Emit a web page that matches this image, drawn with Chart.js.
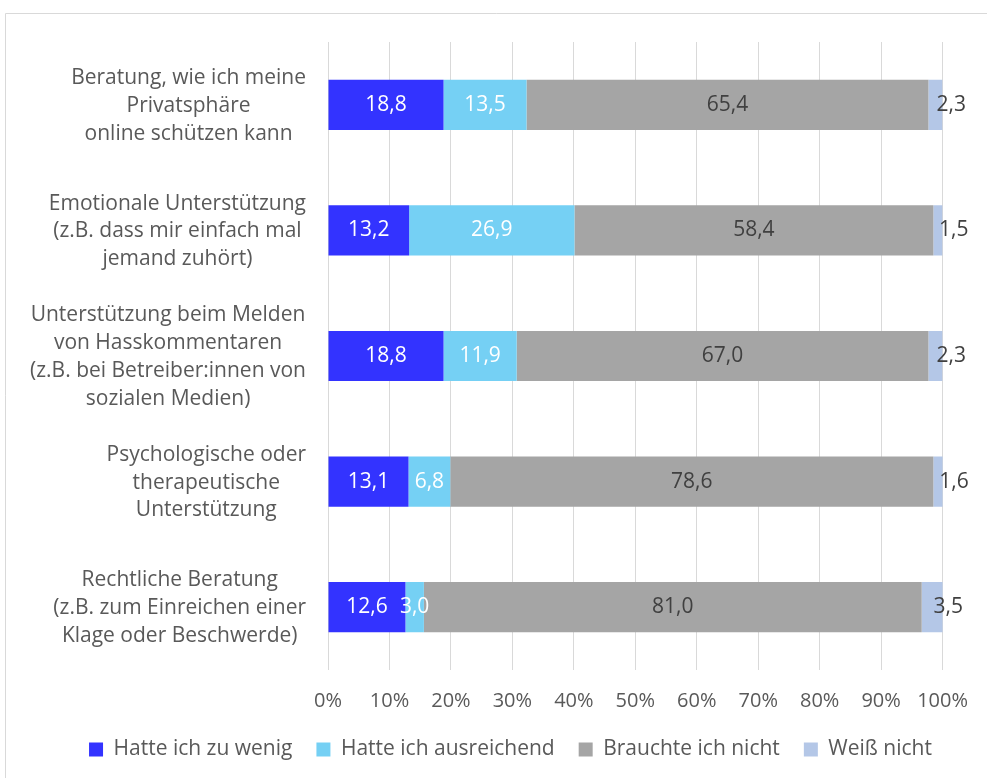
<!DOCTYPE html>
<html>
<head>
<meta charset="utf-8">
<script src="https://cdn.jsdelivr.net/npm/chart.js@4"></script>
<style>
  html, body { margin: 0; padding: 0; background: #fff; }
  #wrap { position: relative; width: 987px; height: 778px; }
</style>
</head>
<body>
<div id="wrap"><canvas id="c" width="987" height="778"></canvas></div>
<script>
const categories = [
  ["Beratung, wie ich meine", "Privatsphäre", "online schützen kann"],
  ["Emotionale Unterstützung", "(z.B. dass mir einfach mal", "jemand zuhört)"],
  ["Unterstützung beim Melden", "von Hasskommentaren", "(z.B. bei Betreiber:innen von", "sozialen Medien)"],
  ["Psychologische oder", "therapeutische", "Unterstützung"],
  ["Rechtliche Beratung", "(z.B. zum Einreichen einer", "Klage oder Beschwerde)"]
];
const seriesNames = ["Hatte ich zu wenig", "Hatte ich ausreichend", "Brauchte ich nicht", "Weiß nicht"];
const zuWenig     = [18.8, 13.2, 18.8, 13.1, 12.6];
const ausreichend = [13.5, 26.9, 11.9, 6.8, 3.0];
const brauchte    = [65.4, 58.4, 67.0, 78.6, 81.0];
const weissNicht  = [2.3, 1.5, 2.3, 1.6, 3.5];
const xTicks = [0, 10, 20, 30, 40, 50, 60, 70, 80, 90, 100];

const colors = ["#3333FF", "#75D0F4", "#A5A5A5", "#B4C7E7"];
const labelColors = ["#FFFFFF", "#FFFFFF", "#404040", "#404040"];
const FONT = "'Open Sans', Lato, sans-serif";
const TEXT = "#595959";

const seriesValues = [zuWenig, ausreichend, brauchte, weissNicht];

const frame = {
  id: 'frame',
  afterLayout(chart) {
    if (chart.legend) {
      chart.legend.left += 38;
      chart.legend.right += 38;
    }
  },
  beforeDraw(chart) {
    const ctx = chart.ctx;
    ctx.save();
    ctx.strokeStyle = '#D9D9D9';
    ctx.lineWidth = 1;
    ctx.beginPath();
    ctx.moveTo(5.5, 778);
    ctx.lineTo(5.5, 13.5);
    ctx.lineTo(987, 13.5);
    ctx.stroke();
    ctx.restore();
  }
};

const catLabels = {
  id: 'catLabels',
  afterDraw(chart) {
    const ctx = chart.ctx;
    const y = chart.scales.y;
    ctx.save();
    ctx.font = "21px " + FONT;
    ctx.fillStyle = TEXT;
    ctx.textAlign = 'center';
    ctx.textBaseline = 'middle';
    const right = 306;
    const lh = 27.8;
    categories.forEach((lines, i) => {
      const cy = y.getPixelForValue(i) + 1;
      let maxW = 0;
      lines.forEach(l => { maxW = Math.max(maxW, ctx.measureText(l).width); });
      const cx = right - maxW / 2;
      const top = cy - (lines.length - 1) * lh / 2;
      lines.forEach((l, k) => ctx.fillText(l, cx, top + k * lh));
    });
    ctx.restore();
  }
};

const valueLabels = {
  id: 'valueLabels',
  afterDatasetsDraw(chart) {
    const ctx = chart.ctx;
    ctx.save();
    ctx.font = "21px " + FONT;
    ctx.textBaseline = 'middle';
    chart.data.datasets.forEach((ds, di) => {
      const meta = chart.getDatasetMeta(di);
      meta.data.forEach((el, i) => {
        const v = ds.data[i];
        const txt = v.toFixed(1).replace('.', ',');
        const p = el.getProps(['x', 'y', 'base'], true);
        ctx.fillStyle = labelColors[di];
        if (di === 3) {
          ctx.textAlign = 'left';
          ctx.fillText(txt, (p.x + p.base) / 2 + 1, p.y);
        } else {
          ctx.textAlign = 'center';
          ctx.fillText(txt, (p.x + p.base) / 2, p.y);
        }
      });
    });
    ctx.restore();
  }
};

new Chart(document.getElementById('c'), {
  type: 'bar',
  data: {
    labels: categories.map(c => c.join(' ')),
    datasets: seriesNames.map((n, i) => ({
      label: n,
      data: seriesValues[i],
      backgroundColor: colors[i],
      borderWidth: 0,
      barPercentage: 0.4,
      categoryPercentage: 1.0
    }))
  },
  options: {
    indexAxis: 'y',
    responsive: false,
    animation: false,
    layout: { padding: { top: 42, right: 42, bottom: 8, left: 0 } },
    scales: {
      x: {
        stacked: true,
        min: 0, max: 100,
        afterBuildTicks: s => { s.ticks = xTicks.map(v => ({ value: v })); },
        afterFit: s => { s.height = 45; },
        grid: { color: '#D9D9D9', drawTicks: false, lineWidth: 1 },
        border: { display: false },
        ticks: {
          padding: 19,
          color: TEXT,
          font: { family: FONT, size: 20 },
          callback: v => v + '%',
          maxRotation: 0
        }
      },
      y: {
        stacked: true,
        afterFit: s => { s.width = 328; },
        grid: { display: false },
        border: { display: false },
        ticks: { display: false }
      }
    },
    plugins: {
      legend: {
        position: 'bottom',
        labels: {
          boxWidth: 14,
          boxHeight: 14,
          padding: 24,
          color: TEXT,
          font: { family: FONT, size: 21 }
        }
      },
      tooltip: { enabled: false }
    }
  },
  plugins: [frame, catLabels, valueLabels]
});
</script>
</body>
</html>
